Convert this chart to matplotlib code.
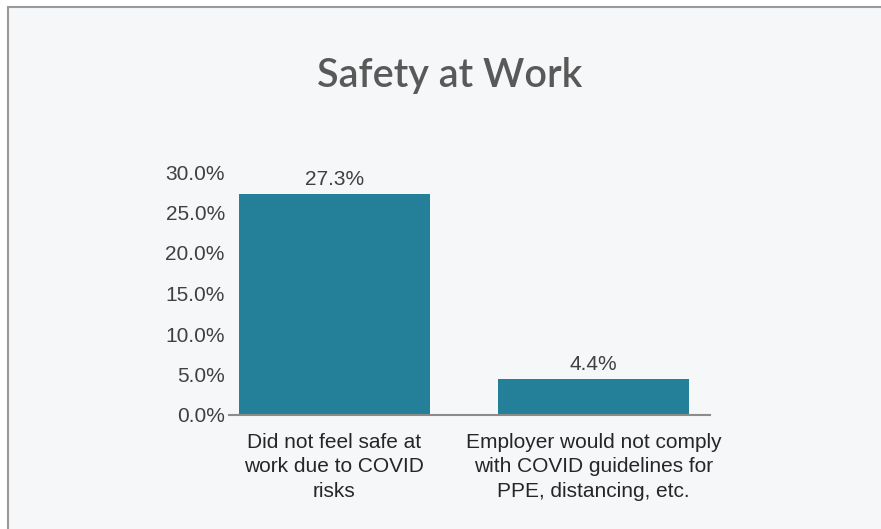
import matplotlib
matplotlib.use("Agg")
import matplotlib.pyplot as plt
from matplotlib.patches import Rectangle
import numpy as np

categories = ["Did not feel safe at\nwork due to COVID\nrisks",
              "Employer would not comply\nwith COVID guidelines for\nPPE, distancing, etc."]
values = [27.3, 4.4]
yticks = [0, 5, 10, 15, 20, 25, 30]

bar_color = '#247f98'
bg = '#f6f7f9'

fig = plt.figure(figsize=(8.81, 5.29), dpi=100)
fig.patch.set_facecolor('white')

# panel background with border on top and left
W, H = 881, 529
fig.patches.append(Rectangle((8 / W, -0.1), 1.2, 1.1 - 7 / H, transform=fig.transFigure,
                             facecolor=bg, edgecolor='#999999', linewidth=1.5, zorder=-10))

ax = fig.add_axes([229 / W, 1 - 415 / H, 481 / W, (415 - 172) / H])
ax.set_facecolor('none')

x = np.arange(len(values))
ax.bar(x, values, width=0.737, color=bar_color, zorder=2)

for xi, v in zip(x, values):
    ax.text(xi, v + 0.6, '%.1f%%' % v, ha='center', va='bottom',
            fontsize=15, color='#404040', family='Liberation Sans')

ax.set_xlim(-0.407, 1.45)
ax.set_ylim(0, 30)
ax.set_yticks(yticks)
ax.set_yticklabels(['%.1f%%' % t for t in yticks], fontsize=15, color='#404040',
                   family='Liberation Sans')
ax.set_xticks(x)
ax.set_xticklabels(categories, fontsize=15, color='#262626', family='Liberation Sans',
                   linespacing=1.35)
ax.tick_params(axis='both', length=0)
ax.tick_params(axis='y', pad=3)
ax.tick_params(axis='x', pad=13)

for s in ['top', 'right', 'left']:
    ax.spines[s].set_visible(False)
ax.spines['bottom'].set_color('#8c8c8c')
ax.spines['bottom'].set_linewidth(1.5)
ax.spines['bottom'].set_zorder(3)

fig.text(450 / W, 1 - 76 / H, 'Safety at Work', ha='center', va='center',
         fontsize=28.5, color='#595959', family='Lato', weight='semibold')

plt.savefig('out.png', dpi=100)
